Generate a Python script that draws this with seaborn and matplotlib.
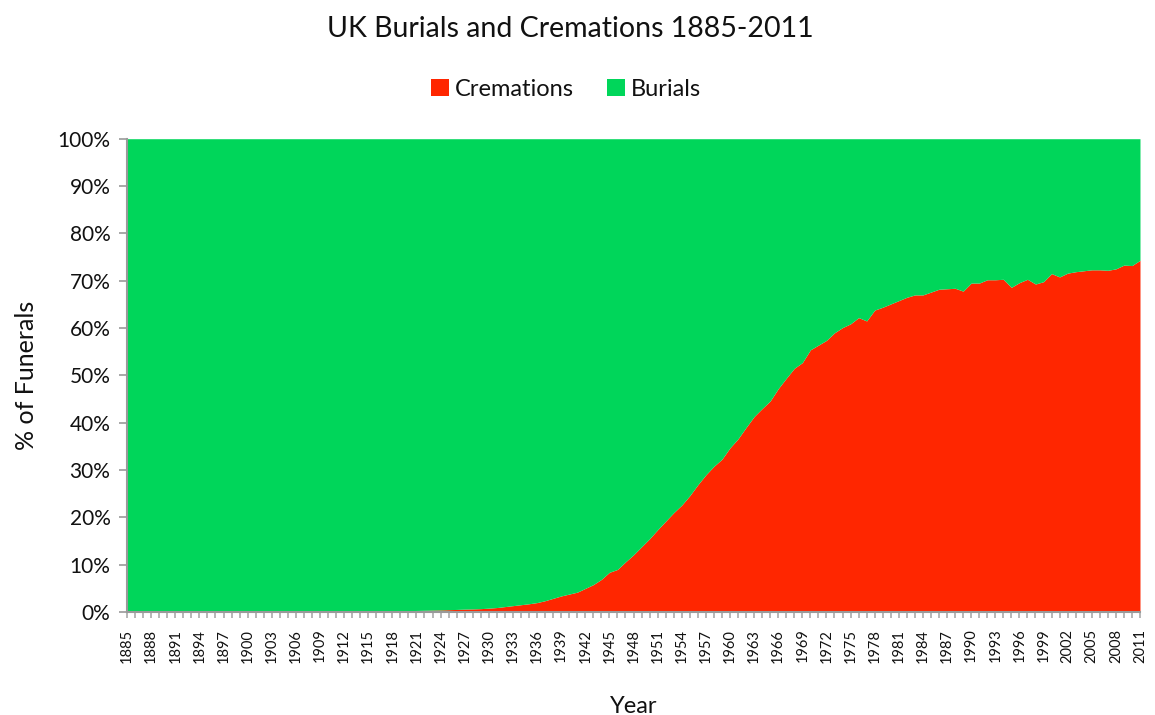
import matplotlib
matplotlib.use("Agg")
import matplotlib.pyplot as plt
import matplotlib.ticker as mticker
import numpy as np
import pandas as pd
import seaborn as sns

# share of funerals that were cremations, %
years = list(range(1885, 2012))
cremations = [
    0.00, 0.00, 0.00, 0.01, 0.01, 0.01, 0.02, 0.02, 0.02, 0.02,   # 1885-1894
    0.03, 0.03, 0.04, 0.04, 0.05, 0.07, 0.07, 0.08, 0.09, 0.09,   # 1895-1904
    0.10, 0.11, 0.12, 0.12, 0.13, 0.14, 0.15, 0.16, 0.17, 0.18,   # 1905-1914
    0.19, 0.20, 0.21, 0.22, 0.26, 0.30, 0.33, 0.37, 0.41, 0.45,   # 1915-1924
    0.50, 0.55, 0.62, 0.66, 0.72, 0.82, 0.95, 1.15, 1.35, 1.55,   # 1925-1934
    1.75, 2.0, 2.4, 2.9, 3.4, 3.8, 4.2, 5.0, 5.8, 6.9,            # 1935-1944
    8.4, 9.0, 10.6, 12.1, 13.8, 15.5, 17.4, 19.2, 21.0, 22.6,     # 1945-1954
    24.6, 26.9, 29.0, 30.8, 32.3, 34.7, 36.6, 39.0, 41.3, 43.0,   # 1955-1964
    44.6, 47.2, 49.4, 51.5, 52.7, 55.4, 56.4, 57.4, 59.0, 60.1,   # 1965-1974
    60.9, 62.2, 61.5, 63.8, 64.4, 65.1, 65.8, 66.5, 67.0, 67.0,   # 1975-1984
    67.6, 68.2, 68.3, 68.4, 67.8, 69.5, 69.5, 70.2, 70.2, 70.3,   # 1985-1994
    68.6, 69.6, 70.3, 69.3, 69.8, 71.5, 70.8, 71.6, 71.9, 72.1,   # 1995-2004
    72.3, 72.3, 72.2, 72.5, 73.3, 73.2, 74.3,                     # 2005-2011
]
series_names = ["Cremations", "Burials"]
colors = ["#FF2600", "#00D65A"]

df = pd.DataFrame({"Year": years, "Cremations": cremations})
df["Burials"] = 100 - df["Cremations"]

sns.set_theme(style="white")
plt.rcParams["font.family"] = ["Lato", "DejaVu Sans"]

fig = plt.figure(figsize=(11.55, 7.15), dpi=100)
ax = fig.add_axes([0.110, 0.144, 0.877, 0.662])

ax.stackplot(df["Year"], df["Cremations"], df["Burials"],
             colors=colors, labels=series_names, linewidth=0)

ax.set_xlim(1885, 2011)
ax.set_ylim(0, 100)
ax.yaxis.set_major_locator(mticker.MultipleLocator(10))
ax.yaxis.set_major_formatter(mticker.FuncFormatter(lambda v, p: f"{int(v)}%"))
ax.set_xticks(years[::3])
ax.set_xticks(years, minor=True)
ax.set_xticklabels([str(y) for y in years[::3]], rotation=90, fontsize=10.5)
ax.tick_params(axis="y", labelsize=15, length=6, width=1.2, color="#999999",
               direction="out", left=True, pad=6, labelcolor="#111111")
ax.tick_params(axis="x", which="both", length=4, width=1.2, color="#aaaaaa",
               direction="out", bottom=True, pad=8, labelcolor="#111111")

sns.despine(ax=ax)
for side in ["left", "bottom"]:
    ax.spines[side].set_color("#999999")
    ax.spines[side].set_linewidth(1.5)

ax.set_xlabel("Year", fontsize=17, labelpad=24, color="#111111")
ax.set_ylabel("% of Funerals", fontsize=18, labelpad=14, color="#111111")
fig.text(0.494, 0.96, "UK Burials and Cremations 1885-2011", fontsize=20.5,
         ha="center", va="center", color="#111111")
fig.legend(*ax.get_legend_handles_labels(), loc="center",
           bbox_to_anchor=(0.49, 0.875), ncol=2, frameon=False, fontsize=17,
           handlelength=0.75, handleheight=0.75, handletextpad=0.25,
           columnspacing=1.4, labelcolor="#111111")

fig.savefig("out.png", dpi=100)
